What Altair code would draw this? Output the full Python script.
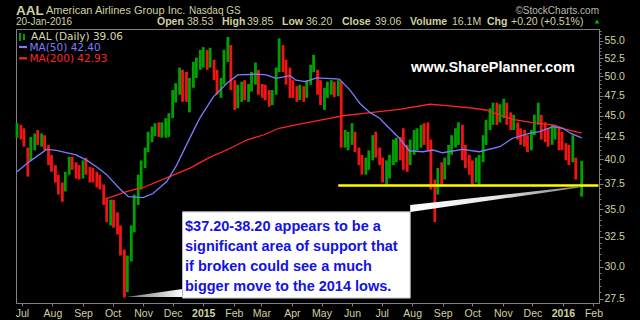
import altair as alt
import pandas as pd

# ---------------- values ----------------
# half-week candles (Mon & Thu sessions), last one is the 20-Jan-2016 session
LOW_2014 = [42.4, 42.2,
            41.4, 38.2, 39.9, 41.0, 41.6, 41.4, 41.0, 39.4, 38.7,
            37.6, 36.4, 35.7, 36.7, 38.4, 38.9, 38.0, 37.9,
            38.0, 38.4, 37.6, 37.6, 37.1, 36.9, 35.4, 33.8, 33.5,
            33.3, 32.7, 30.9, 27.6, 28.0, 30.4, 32.9, 35.4, 36.9,
            39.1, 40.8, 41.9, 42.6, 42.5, 42.4, 42.4, 42.5,
            44.7, 46.6, 47.6, 46.7, 46.7, 45.4, 48.5, 49.8, 50.9]
HIGH_2014 = [44.1, 43.9,
             43.5, 41.3, 42.5, 42.9, 43.3, 42.9, 42.7, 41.6, 40.5,
             39.4, 38.4, 37.6, 38.7, 40.3, 40.3, 39.7, 39.4,
             39.9, 40.2, 39.2, 39.1, 38.7, 38.4, 37.4, 36.1, 35.9,
             35.9, 34.7, 33.5, 31.4, 30.9, 33.5, 36.4, 38.4, 39.9,
             41.3, 43.1, 43.7, 44.1, 44.2, 44.2, 44.7, 45.3,
             48.2, 49.1, 51.2, 50.9, 50.6, 49.8, 52.0, 52.6, 53.7]
CLOSE_2014 = [43.5, 42.7,
              42.2, 39.9, 42.2, 42.5, 42.2, 42.2, 41.6, 39.9, 39.1,
              38.0, 37.0, 36.9, 38.4, 39.9, 39.4, 38.7, 38.4,
              39.4, 39.1, 38.7, 38.0, 37.9, 37.4, 35.9, 34.5, 35.4,
              33.8, 33.3, 31.4, 28.9, 30.5, 32.9, 35.9, 37.7, 39.4,
              40.8, 42.4, 43.1, 43.5, 43.3, 43.8, 43.9, 44.7,
              47.6, 48.5, 49.5, 48.2, 48.0, 48.9, 51.2, 52.0, 52.0]

LOW_2015 = [51.2, 50.9, 51.2, 49.5, 47.6, 47.2, 48.9, 52.0, 48.2,
            45.7, 45.9, 46.7, 46.9, 46.7, 48.0, 48.9, 47.6,
            47.2, 46.9, 46.1, 46.3, 47.6, 50.6, 50.6, 48.9, 47.2,
            47.2, 46.7, 46.9, 46.7, 47.2, 48.9, 50.6, 47.6, 46.3,
            45.7, 47.2, 47.6, 47.3, 47.4, 41.3, 41.3, 41.0,
            41.6, 40.8, 39.4, 38.4, 38.4, 38.9, 39.9, 40.2, 39.4,
            37.6, 37.4, 38.0, 39.4, 39.7, 39.9, 38.9, 38.7, 39.4,
            40.5, 41.0, 41.3, 41.6, 41.0, 36.9, 33.8, 36.4, 37.4,
            37.9, 39.4, 40.5, 41.3, 41.6, 39.9, 39.1, 38.4,
            37.4, 37.6, 37.4, 39.7, 41.6, 43.3, 43.9, 43.9, 44.2,
            44.7, 43.9, 43.3, 43.3, 42.2, 41.6, 41.4, 40.8, 41.0,
            42.7, 43.9, 42.2, 41.9, 41.4, 41.6, 42.2, 41.0, 41.0]
HIGH_2015 = [54.1, 53.7, 54.0, 52.3, 50.9, 49.8, 53.7, 55.6, 54.4,
             49.5, 48.9, 49.3, 49.5, 49.0, 50.6, 51.9, 50.9,
             49.0, 48.9, 48.2, 48.2, 51.2, 55.4, 54.4, 52.3, 51.2,
             49.5, 48.7, 48.9, 48.7, 49.5, 51.6, 53.0, 50.9, 49.5,
             48.5, 49.3, 49.5, 49.3, 49.5, 49.3, 43.3, 43.1,
             44.1, 43.1, 41.3, 40.5, 40.2, 41.0, 42.7, 43.1, 41.3,
             40.2, 39.9, 40.5, 42.2, 42.4, 42.5, 43.5, 41.6, 42.2,
             43.3, 43.5, 43.9, 44.1, 44.2, 42.2, 37.9, 39.1, 39.7,
             40.2, 41.6, 42.7, 43.5, 44.2, 43.9, 41.6, 40.5,
             39.9, 40.2, 40.5, 42.7, 44.5, 45.9, 46.6, 46.6, 46.4,
             47.1, 46.6, 45.4, 45.1, 44.2, 43.5, 43.3, 42.7, 43.3,
             45.1, 46.6, 45.1, 44.2, 43.5, 43.9, 43.9, 43.7, 43.1]
CLOSE_2015 = [53.0, 52.3, 53.0, 50.2, 48.2, 48.9, 53.0, 54.4, 49.5,
              47.6, 48.0, 48.2, 47.6, 48.5, 50.2, 51.2, 48.5,
              48.2, 47.6, 46.9, 47.6, 50.6, 54.4, 52.3, 49.5, 48.5,
              48.0, 47.6, 48.0, 47.4, 49.3, 50.9, 51.6, 48.5, 47.6,
              48.0, 48.5, 48.9, 48.2, 48.9, 42.2, 42.2, 42.4,
              42.7, 41.3, 39.9, 39.1, 39.4, 40.5, 41.6, 41.0, 40.2,
              38.4, 38.9, 39.9, 41.0, 41.6, 40.5, 39.9, 39.4, 41.6,
              42.2, 42.7, 43.3, 42.7, 42.2, 37.4, 35.9, 38.7, 38.4,
              39.4, 41.0, 42.2, 42.7, 43.3, 41.0, 39.7, 38.9,
              38.4, 39.4, 39.9, 42.2, 43.9, 45.1, 45.7, 44.7, 45.7,
              46.3, 44.7, 43.9, 44.2, 42.7, 42.2, 41.9, 41.6, 42.7,
              44.7, 45.1, 43.3, 42.7, 42.2, 42.7, 43.3, 42.2, 41.6]

LOW_2016 = [39.9, 39.4, 39.7, 37.9, 36.20]
HIGH_2016 = [41.8, 41.6, 42.7, 40.2, 39.85]
CLOSE_2016 = [40.5, 39.9, 40.5, 38.9, 39.06]

MA50_DATES = ["2014-06-26", "2014-07-09", "2014-07-26", "2014-08-05", "2014-08-25",
              "2014-09-05", "2014-09-15", "2014-09-25", "2014-10-08", "2014-10-17",
              "2014-11-01", "2014-11-11", "2014-11-25", "2014-12-05", "2014-12-15",
              "2014-12-25", "2014-12-29", "2015-01-11", "2015-01-25", "2015-02-05",
              "2015-02-24", "2015-03-06", "2015-03-16", "2015-03-30", "2015-04-05",
              "2015-04-15", "2015-04-26", "2015-05-06", "2015-05-19", "2015-05-30",
              "2015-06-09", "2015-06-19", "2015-06-29", "2015-07-02", "2015-07-19",
              "2015-07-29", "2015-08-12", "2015-08-22", "2015-09-01", "2015-09-21",
              "2015-10-08", "2015-10-29", "2015-11-11", "2015-11-28", "2015-12-08",
              "2015-12-22", "2016-01-01", "2016-01-09", "2016-01-20"]
MA50_VALUES = [38.7, 39.8, 41.1, 41.0, 40.5,
               39.9, 39.2, 38.4, 37.0, 36.2,
               36.1, 36.5, 37.7, 39.4, 41.6,
               43.9, 44.8, 47.3, 49.1, 50.2,
               50.3, 50.2, 49.75, 50.1, 49.5,
               49.3, 49.8, 49.75, 49.65, 48.2,
               46.5, 45.4, 44.7, 44.3, 42.35,
               40.95, 40.84, 41.03, 40.73, 41.1,
               40.84, 41.4, 42.35, 42.9, 43.1,
               43.7, 43.5, 42.9, 42.40]

MA200_DATES = ["2014-09-25", "2014-10-15", "2014-11-01", "2014-11-28", "2014-12-18",
               "2015-01-07", "2015-01-28", "2015-02-14", "2015-03-03", "2015-03-19",
               "2015-04-05", "2015-04-22", "2015-05-09", "2015-05-23", "2015-06-15",
               "2015-07-19", "2015-08-19", "2015-09-08", "2015-09-25", "2015-10-15",
               "2015-10-29", "2015-11-11", "2015-12-01", "2015-12-22", "2016-01-04",
               "2016-01-20"]
MA200_VALUES = [36.0, 36.7, 37.1, 38.2, 39.06,
                40.2, 41.2, 42.15, 42.72, 43.5,
                43.9, 44.28, 44.68, 44.99, 45.3,
                45.77, 46.4, 46.2, 46.0, 45.69,
                45.08, 44.56, 44.16, 43.89, 43.38,
                42.93]

SUPPORT_LEVEL = 37.3
SUPPORT_FROM = "2015-05-18"
SUPPORT_TO = "2016-02-06"

BOX_DATES = ["2014-12-11", "2015-07-30"]
BOX_PRICES = [27.56, 34.75]
LEFT_WEDGE_DATES = ["2014-10-15", "2014-12-11"]
LEFT_WEDGE_LO = [27.64, 27.64]
LEFT_WEDGE_HI = [27.64, 28.24]
RIGHT_WEDGE_DATES = ["2015-07-30", "2016-01-18"]
RIGHT_WEDGE_LO = [34.73, 37.10]
RIGHT_WEDGE_HI = [35.39, 37.22]

Y_LABELS = [27.5, 30.0, 32.5, 35.0, 37.5, 40.0, 42.5, 45.0, 47.5, 50.0, 52.5, 55.0]

ANNOTATION = ["$37.20-38.20 appears to be a",
              "significant area of support that",
              "if broken could see a much",
              "bigger move to the 2014 lows."]

HEADER_STATS = [("Open", "38.53"), ("High", "39.85"), ("Low", "36.20"),
                ("Close", "39.06"), ("Volume", "16.1M"), ("Chg", "+0.20 (+0.51%)")]
LEGEND = ["AAL (Daily) 39.06", "MA(50) 42.40", "MA(200) 42.93"]

# ---------------- styling ----------------
W, H = 583, 274
GRAY = "#808080"
KHAKI = "#d0d0a0"
GREEN = "#00a000"
RED = "#f01414"
BLUE_MA = "#7b7bff"
RED_MA = "#ff2424"
YELLOW = "#ffff00"
ANNOT_BLUE = "#1212e6"
SANS = "Liberation Sans"

# ---------------- tables ----------------
days = pd.date_range("2014-06-26", "2016-01-14", freq="D")
bar_dates = [d for d in days if d.weekday() in (0, 3)] + [pd.Timestamp("2016-01-20")]
lows = LOW_2014 + LOW_2015 + LOW_2016
highs = HIGH_2014 + HIGH_2015 + HIGH_2016
closes = CLOSE_2014 + CLOSE_2015 + CLOSE_2016
n = min(len(bar_dates), len(lows), len(highs), len(closes))
candles_df = pd.DataFrame({"date": bar_dates[:n], "low": lows[:n],
                           "high": highs[:n], "close": closes[:n]})
prev = [closes[0]] + closes[:n - 1]
candles_df["dir"] = ["up" if c >= p else "down" for c, p in zip(closes[:n], prev)]

ma50_df = pd.DataFrame({"date": pd.to_datetime(MA50_DATES), "low": MA50_VALUES})
ma200_df = pd.DataFrame({"date": pd.to_datetime(MA200_DATES), "low": MA200_VALUES})
support_df = pd.DataFrame({"date": [pd.Timestamp(SUPPORT_FROM)], "d2": [pd.Timestamp(SUPPORT_TO)],
                           "low": [SUPPORT_LEVEL]})
box_df = pd.DataFrame({"date": [pd.Timestamp(BOX_DATES[0])], "d2": [pd.Timestamp(BOX_DATES[1])],
                       "low": [BOX_PRICES[0]], "p2": [BOX_PRICES[1]]})
lw_df = pd.DataFrame({"date": pd.to_datetime(LEFT_WEDGE_DATES), "low": LEFT_WEDGE_LO, "hi": LEFT_WEDGE_HI})
rw_df = pd.DataFrame({"date": pd.to_datetime(RIGHT_WEDGE_DATES), "low": RIGHT_WEDGE_LO, "hi": RIGHT_WEDGE_HI})
one = pd.DataFrame({"k": [0]})

# ---------------- scales & axes ----------------
x_scale = alt.Scale(domain=[alt.DateTime(year=2014, month=6, date=25),
                            alt.DateTime(year=2016, month=2, date=6, hours=14)])
y_scale = alt.Scale(type="log", domain=[27.2, 56.8], nice=False)

minor_ticks = []
for v in Y_LABELS:
    for k in range(5):
        minor_ticks.append(round(v + 0.5 * k, 1))
minor_ticks = [t for t in minor_ticks if t <= 56.8]

is_major = "abs(datum.value/2.5 - round(datum.value/2.5)) < 0.01"

x_axis = alt.Axis(
    orient="bottom", tickCount={"interval": "month", "step": 1},
    labelExpr="month(datum.value) == 0 ? timeFormat(datum.value, '%Y') : timeFormat(datum.value, '%b')",
    labelFontWeight={"condition": {"test": "month(datum.value) == 0", "value": "bold"}, "value": "normal"},
    labelColor=KHAKI, labelFont=SANS, labelFontSize=10.5, labelPadding=2,
    tickSize=3, tickColor=GRAY, domainColor=GRAY, grid=False,
    labelFlush=False, labelOverlap=False, title="")
y_axis = alt.Axis(
    orient="right", values=minor_ticks,
    labelExpr=is_major + " ? format(datum.value, '.1f') : ''",
    tickSize={"condition": {"test": is_major, "value": 4}, "value": 2},
    labelColor=KHAKI, labelFont=SANS, labelFontSize=10.5, labelPadding=1,
    tickColor=GRAY, domainColor=GRAY, grid=False,
    labelFlush=False, labelOverlap=False, title="")

X = alt.X("date:T", scale=x_scale, axis=x_axis)
Y = alt.Y("low:Q", scale=y_scale, axis=y_axis)

# ---------------- layers ----------------
candles = alt.Chart(candles_df).mark_rule(strokeWidth=2.8).encode(
    x=X, y=Y, y2="high:Q",
    color=alt.Color("dir:N", scale=alt.Scale(domain=["up", "down"], range=[GREEN, RED]), legend=None),
)
ma200 = alt.Chart(ma200_df).mark_line(color=RED_MA, strokeWidth=1.3).encode(x=X, y=Y)
ma50 = alt.Chart(ma50_df).mark_line(color=BLUE_MA, strokeWidth=1.3).encode(x=X, y=Y)
support = alt.Chart(support_df).mark_rule(color=YELLOW, strokeWidth=2.6).encode(x=X, x2="d2:T", y=Y)

left_wedge = alt.Chart(lw_df).mark_area(
    color=alt.Gradient(gradient="linear", x1=0, x2=1, y1=0, y2=0,
                       stops=[alt.GradientStop(color="#707070", offset=0),
                              alt.GradientStop(color="#ffffff", offset=1)])
).encode(x=X, y=Y, y2="hi:Q")
right_wedge = alt.Chart(rw_df).mark_area(
    color=alt.Gradient(gradient="linear", x1=0, x2=1, y1=0, y2=0,
                       stops=[alt.GradientStop(color="#ffffff", offset=0),
                              alt.GradientStop(color="#e8e8e8", offset=0.5),
                              alt.GradientStop(color="#808080", offset=1)])
).encode(x=X, y=Y, y2="hi:Q")
box = alt.Chart(box_df).mark_rect(fill="#ffffff", stroke="#bdbdbd", strokeWidth=1).encode(
    x=X, x2="d2:T", y=Y, y2="p2:Q")


def txt(s, x, y, size=11, color=KHAKI, weight="normal", align="left", font=SANS, **kw):
    return alt.Chart(one).mark_text(text=s, align=align, baseline="middle", fontSize=size,
                                    fontWeight=weight, font=font, color=color, **kw).encode(
        x=alt.value(x), y=alt.value(y))


def rule(x1, x2, y1, y2, color, width):
    return alt.Chart(one).mark_rule(color=color, strokeWidth=width).encode(
        x=alt.value(x1), x2=alt.value(x2), y=alt.value(y1), y2=alt.value(y2))


annot = txt("\n".join(ANNOTATION), 169, 198, size=14.5, color=ANNOT_BLUE, weight="bold",
            lineBreak="\n", lineHeight=20)
watermark = txt("www.SharePlanner.com", 477, 39, size=14.5, color="#ffffff", weight="bold", align="center")

legend_layers = [
    rule(4, 4, 4, 12, GREEN, 2), rule(8, 8, 5, 11, GREEN, 2),
    txt(LEGEND[0], 15, 8, size=10.5, font="DejaVu Sans", color="#d8d8b0"),
    rule(3, 11, 18, 18, BLUE_MA, 2.2),
    txt(LEGEND[1], 13.5, 18.5, size=10.5, font="DejaVu Sans", color=BLUE_MA),
    rule(3, 11, 29.3, 29.3, RED_MA, 2.2),
    txt(LEGEND[2], 13.5, 29.5, size=10.5, font="DejaVu Sans", color=RED_MA),
]

header = [
    txt("AAL", 0, -18.5, size=13.5, weight="bold"),
    txt("American Airlines Group Inc.", 30, -18, size=11),
    txt("Nasdaq GS", 173, -18, size=10),
    txt("\u00a9StockCharts.com", 583, -18, size=10, align="right", color="#b8b8a8"),
    txt("20-Jan-2016", 0, -7, size=10),
]
stat_label_x = [141, 206, 266, 326, 394, 471]
stat_value_x = [171, 231, 290, 359, 436, 495]
for (lab, val), lx, vx in zip(HEADER_STATS, stat_label_x, stat_value_x):
    header.append(txt(lab, lx, -7, size=10.5, weight="bold"))
    header.append(txt(val, vx, -7, size=10.5))
header.append(alt.Chart(one).mark_point(shape="triangle-up", filled=True, size=22, color="#00c000",
                                        opacity=1).encode(x=alt.value(581), y=alt.value(-7.5)))

chart = alt.layer(
    candles, ma200, ma50, support, left_wedge, right_wedge, box, annot, watermark,
    *legend_layers, *header
).properties(
    width=W, height=H, background="#000000",
    padding={"left": 16, "top": 29, "right": 41, "bottom": 17},
    autosize=alt.AutoSizeParams(type="none"),
).configure_view(stroke=GRAY, strokeWidth=1)

chart.save("out.html", embed_options={"renderer": "svg", "actions": False})
